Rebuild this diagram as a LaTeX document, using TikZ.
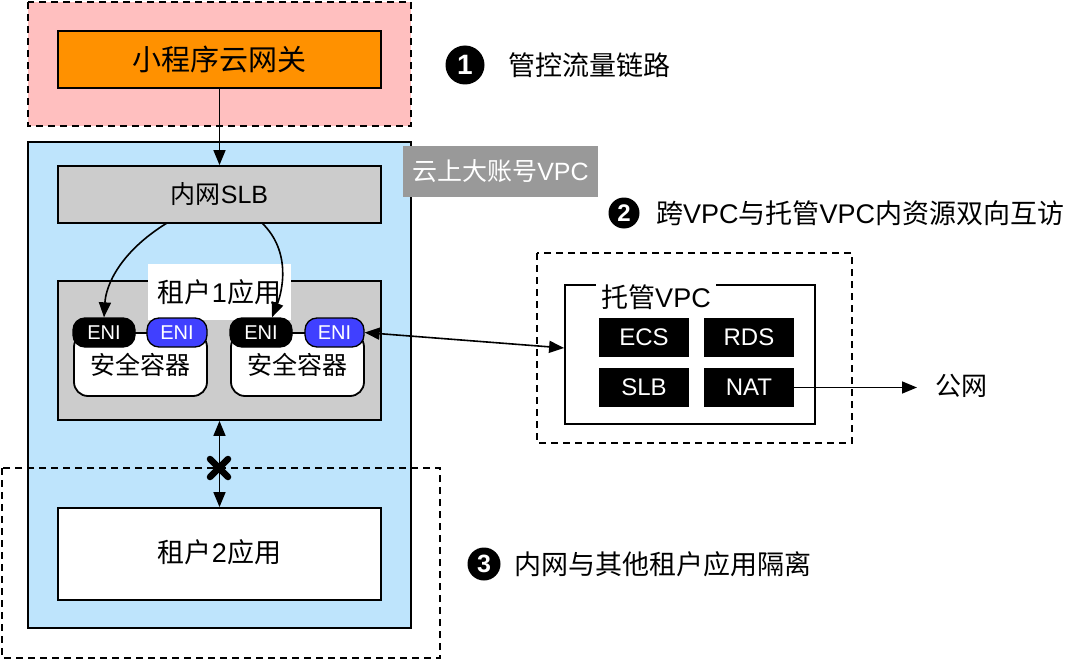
\documentclass[tikz,border=0pt]{standalone}
\usepackage{fontspec}
\setmainfont{Noto Sans CJK SC}
\newfontfamily\lat{Liberation Sans}
\usetikzlibrary{arrows.meta}
\definecolor{pinkbg}{RGB}{255,191,191}
\definecolor{gworange}{RGB}{255,145,0}
\definecolor{vpcblue}{RGB}{190,228,252}
\definecolor{slbgray}{RGB}{204,204,204}
\definecolor{labelgray}{RGB}{153,153,153}
\definecolor{eniblue}{RGB}{64,64,255}
\newcommand{\latt}[1]{{\lat #1}}
\tikzset{
  box/.style={draw=black, line width=1.8pt, inner sep=0pt, align=center},
  dashbox/.style={draw=black, line width=1.6pt, dash pattern=on 7pt off 5pt},
  eni/.style={draw=black, line width=1.3pt, rounded corners=12pt, minimum width=#1, minimum height=29pt, inner sep=0pt, text=white, font=\fontsize{20}{20}\selectfont\lat},
  res/.style={fill=black, text=white, minimum width=90pt, minimum height=39pt, inner sep=0pt, font=\fontsize{24}{24}\selectfont\lat},
  num/.style={circle, fill=black, text=white, inner sep=0pt, font=\fontsize{#1}{#1}\selectfont\lat\bfseries},
  ann/.style={anchor=west, inner sep=0pt, font=\fontsize{27}{27}\selectfont},
  arr/.style={line width=1.6pt, -{Triangle[length=15pt,width=12pt]}},
  darr/.style={line width=1.6pt, {Triangle[length=15pt,width=12pt]}-{Triangle[length=15pt,width=12pt]}},
}
\begin{document}
\begin{tikzpicture}[x=1pt,y=-1pt]
\useasboundingbox (0,0) rectangle (1080,661);
% top pink region
\draw[dashbox, fill=pinkbg] (28,2) rectangle (411,126);
\node[box, fill=gworange, minimum width=323pt, minimum height=57pt, font=\fontsize{29}{29}\selectfont] (gw) at (219.5,59.5) {小程序云网关};
% blue VPC
\node[box, fill=vpcblue, minimum width=383pt, minimum height=486pt] (vpc) at (219.5,385) {};
\node[fill=labelgray, text=white, minimum width=195pt, minimum height=51pt, inner sep=0pt, font=\fontsize{25}{25}\selectfont] (vpclabel) at (500.5,171.5) {云上大账号\latt{VPC}};
\node[box, fill=slbgray, minimum width=323pt, minimum height=57pt, font=\fontsize{25}{25}\selectfont] (slb) at (219.5,194.5) {内网\latt{SLB}};
% tenant 1
\node[box, fill=slbgray, minimum width=323pt, minimum height=139pt] (t1) at (219.5,350.5) {};
\node[fill=white, minimum width=143pt, minimum height=56pt, inner sep=0pt, font=\fontsize{27}{27}\selectfont] (t1label) at (219.5,292) {租户\latt{1}应用};
\node[box, fill=white, rounded corners=14pt, minimum width=133pt, minimum height=63pt, font=\fontsize{25}{25}\selectfont] (c1) at (140.5,364.5) {\raisebox{-6pt}{安全容器}};
\node[box, fill=white, rounded corners=14pt, minimum width=133pt, minimum height=63pt, font=\fontsize{25}{25}\selectfont] (c2) at (297.5,364.5) {\raisebox{-6pt}{安全容器}};
\draw[line width=1.3pt] (104,332.5) -- (177,332.5);
\draw[line width=1.3pt] (261,332.5) -- (334.5,332.5);
\node[eni=62pt, fill=black] (e1a) at (104,332.5) {ENI};
\node[eni=60pt, fill=eniblue] (e1b) at (177,332.5) {ENI};
\node[eni=62pt, fill=black] (e2a) at (261,332.5) {ENI};
\node[eni=59pt, fill=eniblue] (e2b) at (334.5,332.5) {ENI};
% tenant 2 region
\draw[dashbox] (2,468) rectangle (440,658);
\node[box, fill=white, minimum width=323pt, minimum height=92pt, font=\fontsize{27}{27}\selectfont] (t2) at (219.5,554) {\raisebox{6pt}{租户\latt{2}应用}};
% managed VPC
\draw[dashbox] (537,253) rectangle (852,443);
\node[box, fill=white, minimum width=250pt, minimum height=139pt] (mvpc) at (690,354.5) {};
\node[fill=white, inner sep=5pt, font=\fontsize{27}{27}\selectfont] (mvpclabel) at (656,297) {托管\latt{VPC}};
\node[res] (ecs) at (644,337.5) {ECS};
\node[res] (rds) at (749,337.5) {RDS};
\node[res] (slb2) at (644,387.5) {SLB};
\node[res] (nat) at (749,387.5) {NAT};
\node[inner sep=0pt, font=\fontsize{26}{26}\selectfont] (internet) at (961,386) {公网};
\coordinate (netend) at (917,387.5);
% connectors
\draw[arr] (gw.south) -- (slb.north);
\draw[arr] (167,223) .. controls (120,252) and (106,285) .. (e1a.north);
\draw[arr] (262,223) .. controls (292,252) and (282,292) .. (e2a.north -| 272,0);
\draw[darr] (e2b.east) -- (mvpc.west |- 0,348);
\draw[arr] (nat.east) -- (netend);
\draw[darr] (t1.south) -- (t2.north);
\draw[line width=6.5pt, line cap=round] (210,459) -- (228,477) (228,459) -- (210,477);
% annotations
\node[num=28, minimum size=39pt] (n1) at (465,65) {1};
\node[ann] (a1) at (508,65) {管控流量链路};
\node[num=24, minimum size=31pt] (n2) at (624,213) {2};
\node[ann] (a2) at (656,213) {跨\latt{VPC}与托管\latt{VPC}内资源双向互访};
\node[num=25, minimum size=33pt] (n3) at (484,564) {3};
\node[ann] (a3) at (514,564) {内网与其他租户应用隔离};
\end{tikzpicture}
\end{document}
